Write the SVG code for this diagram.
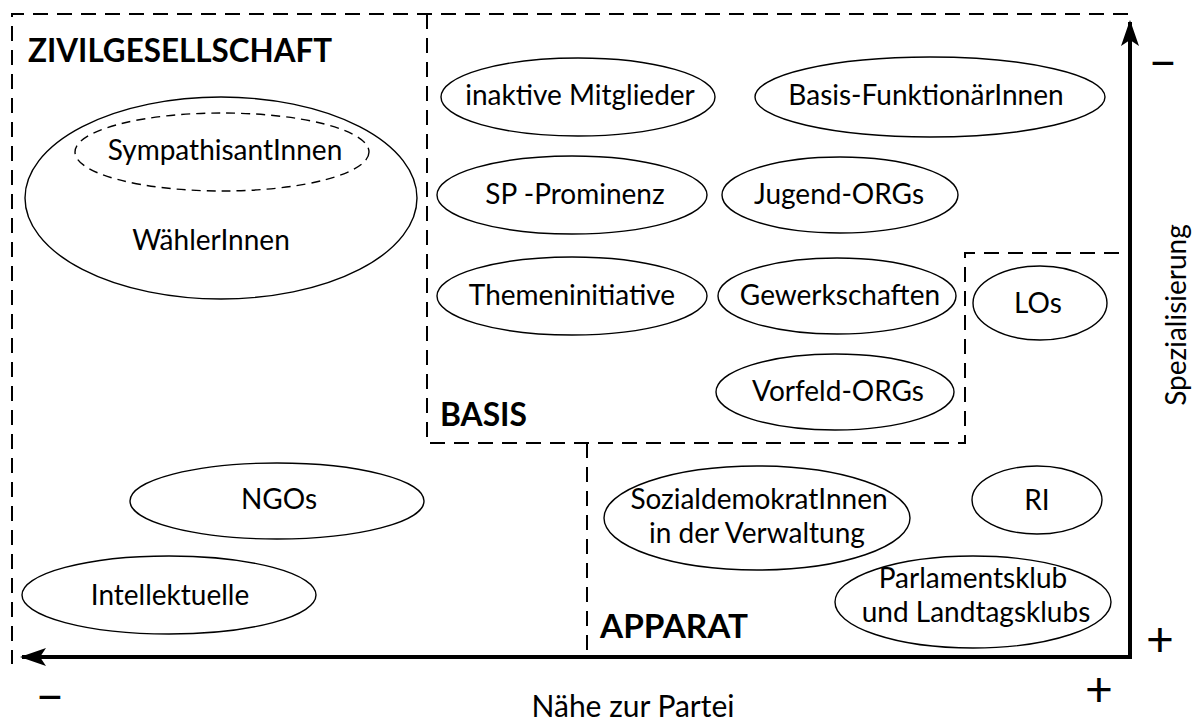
<svg xmlns="http://www.w3.org/2000/svg" width="1198" height="722" viewBox="0 0 1198 722">
<style>
.bg{fill:#fff}
.frame{fill:none;stroke:#000;stroke-width:2;stroke-dasharray:15 9}
.ell{fill:none;stroke:#000;stroke-width:1.4}
.dash{stroke-dasharray:9 6}
.axis{fill:none;stroke:#000;stroke-width:4}
text{font-family:Lato,"Open Sans","Liberation Sans",sans-serif;fill:#000}
.lbl{font-size:28px;text-anchor:middle}
.ttl{font-size:32px;font-weight:bold}
.ax{font-size:30px}
.sign{font-size:48px;text-anchor:middle}
</style>
<defs>
<marker id="arr" viewBox="0 0 26 18" refX="24" refY="9" markerWidth="26" markerHeight="18" markerUnits="userSpaceOnUse" orient="auto">
<path d="M0,0 L26,9 L0,18 L6,9 z" fill="#000"/>
</marker>
</defs>
<rect class="bg" x="0" y="0" width="1198" height="722"/>
<g id="regions">
<path class="frame" d="M1128,14 H12 V664"/>
<path class="frame" d="M427,14 V443 H965 V253 H1128"/>
<path class="frame" d="M587,443 V657"/>
</g>
<g id="connectors">
<path class="axis" d="M1132,657 H22" marker-end="url(#arr)"/>
<path class="axis" d="M1130,659 V22" marker-end="url(#arr)"/>
</g>
<g id="zivilgesellschaft"><text class="ttl" x="28" y="62" textLength="304" lengthAdjust="spacingAndGlyphs">ZIVILGESELLSCHAFT</text></g>
<g id="basis"><text class="ttl" x="440" y="426" textLength="87" lengthAdjust="spacingAndGlyphs">BASIS</text></g>
<g id="apparat"><text class="ttl" x="600" y="638" textLength="148" lengthAdjust="spacingAndGlyphs">APPARAT</text></g>
<g id="waehler"><ellipse class="ell" cx="221" cy="198" rx="196" ry="101"/><text class="lbl" x="211" y="250">WählerInnen</text></g>
<g id="sympathisanten"><ellipse class="ell dash" cx="222" cy="152" rx="147" ry="39"/><text class="lbl" x="225" y="160">SympathisantInnen</text></g>
<g id="inaktive"><ellipse class="ell" cx="578" cy="97" rx="137" ry="39"/><text class="lbl" x="580" y="105">inaktive Mitglieder</text></g>
<g id="basisfunktionaere"><ellipse class="ell" cx="930" cy="97" rx="175" ry="40"/><text class="lbl" x="926" y="105">Basis-FunktionärInnen</text></g>
<g id="prominenz"><ellipse class="ell" cx="572" cy="195" rx="135" ry="39"/><text class="lbl" x="575" y="204">SP -Prominenz</text></g>
<g id="jugend"><ellipse class="ell" cx="840" cy="195" rx="118" ry="38"/><text class="lbl" x="839" y="204">Jugend-ORGs</text></g>
<g id="themen"><ellipse class="ell" cx="572" cy="296" rx="135" ry="39"/><text class="lbl" x="572" y="305">Themeninitiative</text></g>
<g id="gewerkschaften"><ellipse class="ell" cx="837" cy="296" rx="119" ry="38"/><text class="lbl" x="840" y="305">Gewerkschaften</text></g>
<g id="los"><ellipse class="ell" cx="1040" cy="303" rx="67" ry="37"/><text class="lbl" x="1038" y="313">LOs</text></g>
<g id="vorfeld"><ellipse class="ell" cx="835" cy="392" rx="119" ry="38"/><text class="lbl" x="838" y="401">Vorfeld-ORGs</text></g>
<g id="ngos"><ellipse class="ell" cx="277" cy="501" rx="147" ry="38"/><text class="lbl" x="279" y="509">NGOs</text></g>
<g id="intellektuelle"><ellipse class="ell" cx="169" cy="595" rx="147" ry="39"/><text class="lbl" x="170" y="605">Intellektuelle</text></g>
<g id="sozialdemokraten"><ellipse class="ell" cx="757" cy="518" rx="153" ry="52"/><text class="lbl" x="759" y="509">SozialdemokratInnen</text><text class="lbl" x="757" y="543">in der Verwaltung</text></g>
<g id="ri"><ellipse class="ell" cx="1037" cy="500" rx="65" ry="34"/><text class="lbl" x="1037" y="510">RI</text></g>
<g id="parlamentsklub"><ellipse class="ell" cx="973" cy="602" rx="138" ry="46"/><text class="lbl" x="973" y="588">Parlamentsklub</text><text class="lbl" x="976" y="622">und Landtagsklubs</text></g>
<g id="axislabels">
<text class="ax" x="633" y="717" text-anchor="middle">Nähe zur Partei</text>
<text class="lbl" transform="translate(1186,315) rotate(-90)">Spezialisierung</text>
<text class="sign" x="1163" y="80">−</text>
<text class="sign" x="1160" y="656">+</text>
<text class="sign" x="50" y="714">−</text>
<text class="sign" x="1099" y="706">+</text>
</g>
</svg>
